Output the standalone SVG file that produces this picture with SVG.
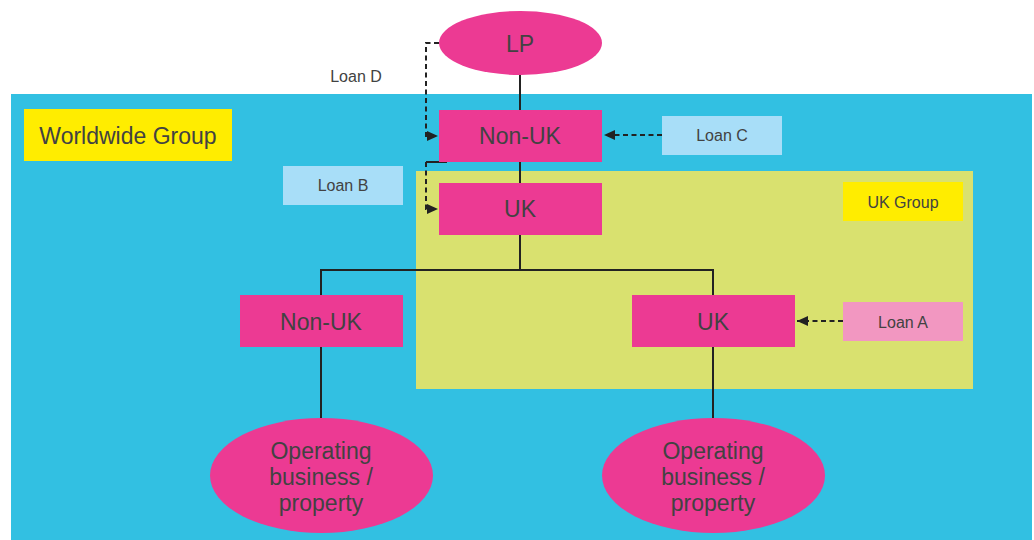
<svg xmlns="http://www.w3.org/2000/svg" width="1034" height="540" viewBox="0 0 1034 540">
<style>
text{font-family:"Liberation Sans",Arial,sans-serif;fill:#424242;text-anchor:middle}
.big{font-size:23px}
.sm{font-size:16px}
.pink{fill:#EC3A93}
.ln{stroke:#222;stroke-width:2;fill:none}
.dash{stroke:#222;stroke-width:2;fill:none;stroke-dasharray:5 3.5}
</style>
<defs>
<marker id="ah" markerUnits="userSpaceOnUse" markerWidth="12" markerHeight="10" refX="11" refY="5" orient="auto">
<path d="M0,0 L11,5 L0,10 Z" fill="#222"/>
</marker>
</defs>
<rect id="worldwide-bg" x="11" y="94" width="1021" height="446" fill="#32C0E2"/>
<rect id="ukgroup-bg" x="416" y="171" width="557" height="218" fill="#D9E16F"/>
<g id="worldwide-label"><rect x="24" y="109" width="208" height="52" fill="#FFED00"/><text class="big" x="128" y="144">Worldwide Group</text></g>
<g id="ukgroup-label"><rect x="843" y="182" width="120" height="39" fill="#FFED00"/><text class="sm" x="903" y="208">UK Group</text></g>
<g id="connectors">
<path class="ln" d="M520,75 V110 M520,162 V183 M520,235 V270 M321,295 V270 H713 V295 M321,347 V418 M713,347 V418"/>
<path class="dash" d="M439,43 H426 V136 H438" marker-end="url(#ah)"/>
<path class="ln" d="M447,162 H426"/>
<path class="dash" d="M426,162 V209 H438" marker-end="url(#ah)"/>
<path class="dash" d="M662,135 H604" marker-end="url(#ah)"/>
<path class="dash" d="M843,321 H797" marker-end="url(#ah)"/>
</g>
<g id="lp"><ellipse class="pink" cx="520.5" cy="43" rx="81.5" ry="32"/><text class="big" x="520" y="52">LP</text></g>
<g id="nonuk-top"><rect class="pink" x="439" y="110" width="163" height="52"/><text class="big" x="520" y="144">Non-UK</text></g>
<g id="uk-top"><rect class="pink" x="439" y="183" width="163" height="52"/><text class="big" x="520" y="217">UK</text></g>
<g id="nonuk-left"><rect class="pink" x="240" y="295" width="163" height="52"/><text class="big" x="321" y="330">Non-UK</text></g>
<g id="uk-right"><rect class="pink" x="632" y="295" width="163" height="52"/><text class="big" x="713" y="330">UK</text></g>
<g id="op-left"><ellipse class="pink" cx="321.5" cy="475.5" rx="111.5" ry="57.5"/><text class="big" x="321" y="459">Operating</text><text class="big" x="321" y="485">business /</text><text class="big" x="321" y="511">property</text></g>
<g id="op-right"><ellipse class="pink" cx="713.5" cy="475.5" rx="111.5" ry="57.5"/><text class="big" x="713" y="459">Operating</text><text class="big" x="713" y="485">business /</text><text class="big" x="713" y="511">property</text></g>
<g id="loan-d"><text class="sm" x="356" y="82">Loan D</text></g>
<g id="loan-b"><rect x="283" y="166" width="120" height="39" fill="#A8DEF8"/><text class="sm" x="343" y="191">Loan B</text></g>
<g id="loan-c"><rect x="662" y="116" width="120" height="39" fill="#A8DEF8"/><text class="sm" x="722" y="141">Loan C</text></g>
<g id="loan-a"><rect x="843" y="302" width="120" height="39" fill="#F297C1"/><text class="sm" x="903" y="328">Loan A</text></g>
</svg>
